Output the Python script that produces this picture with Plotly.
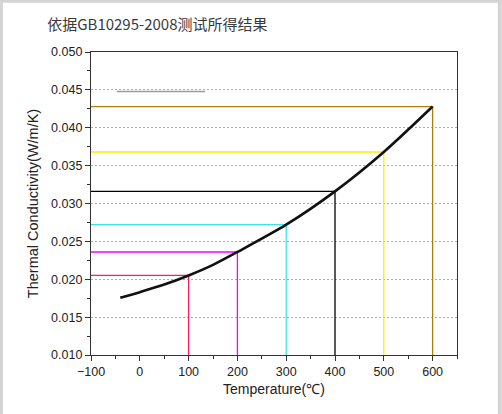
import plotly.graph_objects as go

# measured points (temperature C, conductivity W/m/K)
temps = [100, 200, 300, 400, 500, 600]
values = [0.0205, 0.0236, 0.0272, 0.0316, 0.0368, 0.0428]
guide_colors = ["#ff1f5f", "#ff00ff", "#38e4ea", "#000000", "#ffee00", "#b07a0c"]

# fitted curve
curve_t = [-40, 0, 50, 100, 150, 200, 300, 400, 500, 600]
curve_k = [0.01755, 0.0183, 0.0193, 0.0205, 0.0219, 0.0236, 0.0272, 0.0316, 0.0368, 0.0428]

# stray grey segment near 0.045
stray_t = [-47, 134]
stray_k = [0.0448, 0.0448]

y_min = 0.010
x_min = -100

fig = go.Figure()

for t, v, c in zip(temps, values, guide_colors):
    fig.add_trace(go.Scatter(x=[x_min, t, t], y=[v, v, y_min], mode="lines",
                             line=dict(color=c, width=1.3), hoverinfo="skip"))

fig.add_trace(go.Scatter(x=stray_t, y=stray_k, mode="lines",
                         line=dict(color="#9c9c9c", width=1.5), hoverinfo="skip"))

fig.add_trace(go.Scatter(x=curve_t, y=curve_k, mode="lines", line_shape="spline",
                         line=dict(color="#111111", width=2.6, smoothing=0.8)))

fig.update_layout(
    width=502, height=414,
    margin=dict(l=91, r=45, t=52, b=59),
    paper_bgcolor="white", plot_bgcolor="white",
    showlegend=False,
    font=dict(family="Liberation Sans, Arial", size=12.5, color="#222222"),
    title=dict(text="依据GB10295-2008测试所得结果", x=0.094, xanchor="left",
               y=0.94, yanchor="middle",
               font=dict(family="Noto Sans CJK SC", size=15, color="#3a3a3a")),
)

fig.update_xaxes(
    range=[-100, 650], tickvals=[-100, 0, 100, 200, 300, 400, 500, 600],
    showgrid=False, zeroline=False,
    showline=True, linecolor="#333333", linewidth=1.3, mirror=True,
    ticks="outside", ticklen=5, tickcolor="#333333",
    minor=dict(dtick=50, tick0=-100, ticks="outside", ticklen=3, tickcolor="#333333"),
    title=dict(text="Temperature(℃)", font=dict(size=14), standoff=6),
)

fig.update_yaxes(
    range=[0.010, 0.050], dtick=0.005, tickformat=".3f",
    showgrid=True, gridcolor="#8db0ec", griddash="2px,2px", gridwidth=1.2,
    zeroline=False,
    showline=True, linecolor="#333333", linewidth=1.3, mirror=True,
    ticks="outside", ticklen=5, tickcolor="#333333",
    minor=dict(dtick=0.0025, ticks="outside", ticklen=3, tickcolor="#333333", showgrid=False),
    title=dict(text="Thermal Conductivity(W/m/K)", font=dict(size=14.5), standoff=8),
)

# thin grey frame along the picture edges
fig.add_shape(type="rect", xref="paper", yref="paper", x0=-0.246, x1=1.117,
              y0=-0.4, y1=1.169, line=dict(color="#d4d4d4", width=4), layer="below")

fig.write_html("out.html", config={"displayModeBar": False},
               post_script="document.body.style.margin='0';")
